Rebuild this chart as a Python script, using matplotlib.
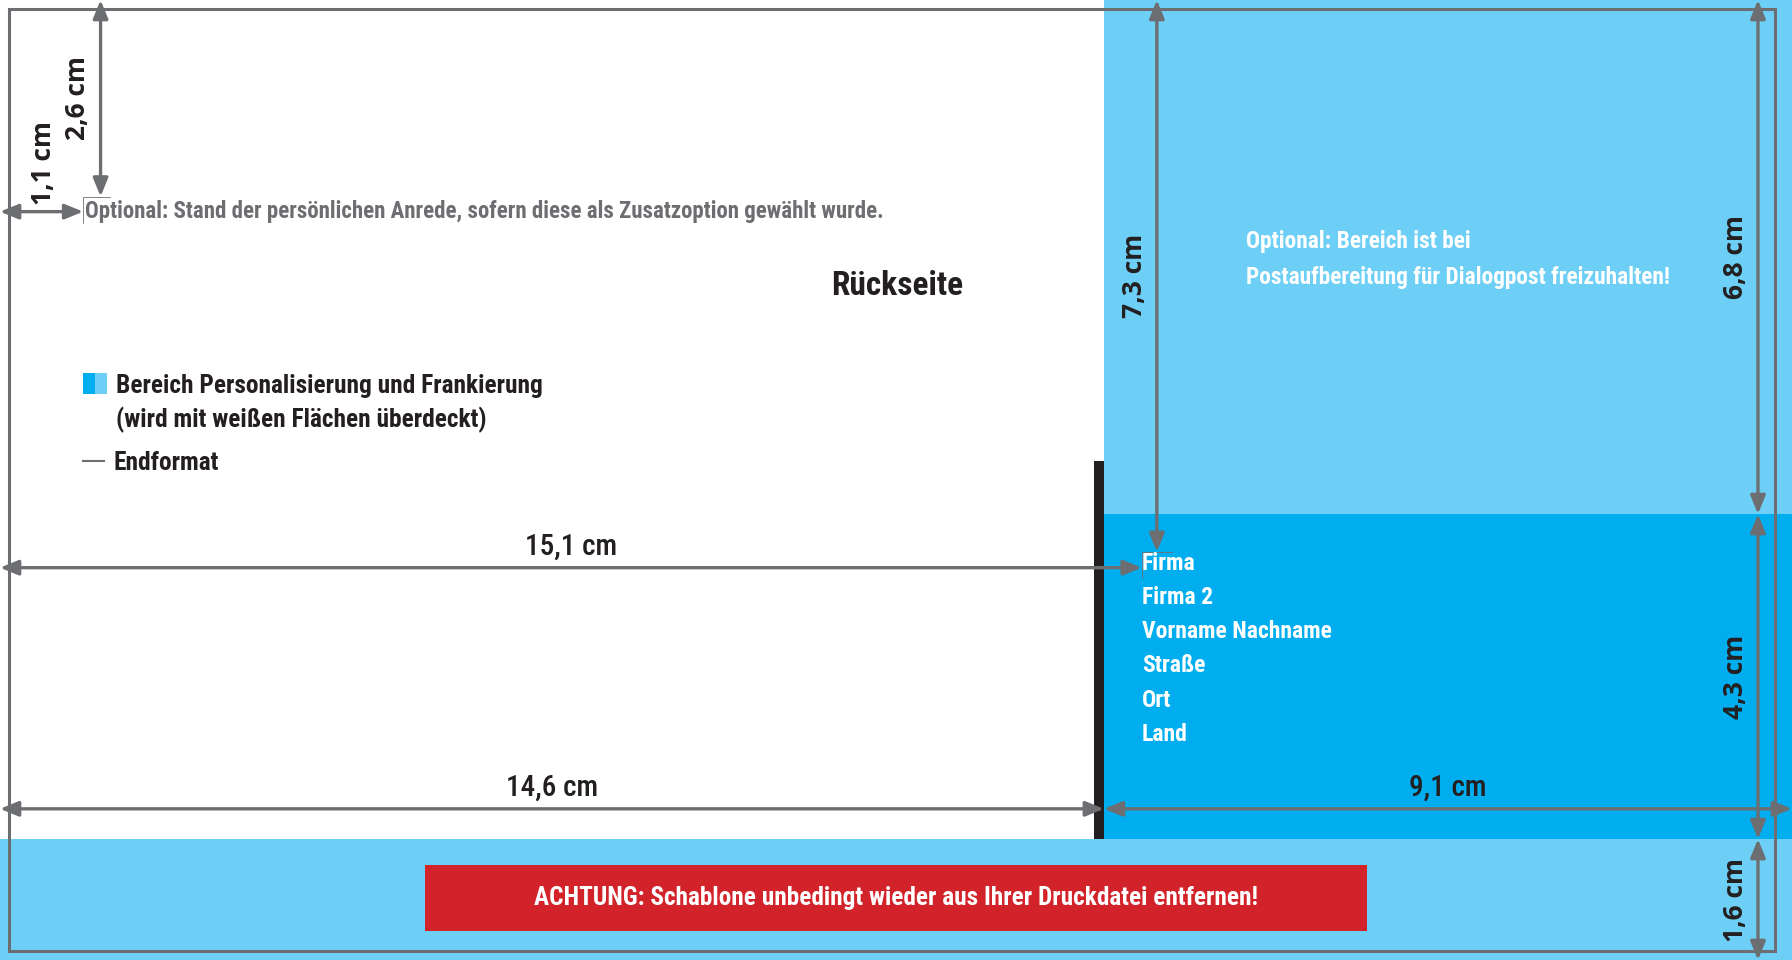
import matplotlib
matplotlib.use('Agg')
import matplotlib.pyplot as plt
from matplotlib import font_manager
from matplotlib.patches import Rectangle

# layout of the card in cm
front_width = 14.6
address_width = 9.1
top_height = 6.8
address_height = 4.3
band_height = 1.6
total_width = front_width + address_width
total_height = top_height + address_height + band_height

# dimension arrows (value in cm, start along the arrow, cross position)
h_dims = [1.1, 15.1, 14.6, 9.1]
h_starts = [0, 0, 0, 14.6]
h_cross = [2.8, 7.51, 10.7, 10.7]
v_dims = [2.6, 7.3, 6.8, 4.3, 1.6]
v_starts = [0, 0, 0, 6.8, 11.1]
v_cross = [1.33, 15.3, 23.25, 23.25, 23.25]

address_lines = ['Firma', 'Firma 2', 'Vorname Nachname', 'Straße', 'Ort', 'Land']
blue_note = ['Optional: Bereich ist bei', 'Postaufbereitung für Dialogpost freizuhalten!']
anrede_note = 'Optional: Stand der persönlichen Anrede, sofern diese als Zusatzoption gewählt wurde.'
legend_lines = ['Bereich Personalisierung und Frankierung', '(wird mit weißen Flächen überdeckt)']
warning = 'ACHTUNG: Schablone unbedingt wieder aus Ihrer Druckdatei entfernen!'

light_blue = '#6dcff6'
dark_blue = '#00aeef'
red = '#d2232a'
gray = '#6d6e71'
black = '#231f20'

installed = {f.name for f in font_manager.fontManager.ttflist}
condensed = [n for n in ['Roboto Condensed', 'Liberation Sans Narrow', 'DejaVu Sans'] if n in installed]
narrow = condensed[:1] + ['DejaVu Sans']
wide = ['Open Sans', 'DejaVu Sans']
cond = dict(family=narrow, fontstretch='condensed', fontweight='bold')

def cm_label(v):
    return '{:.1f} cm'.format(v).replace('.', ',')

def dim_arrow(x0, y0, x1, y1):
    ax.annotate('', xy=(x1, y1), xytext=(x0, y0),
                arrowprops=dict(arrowstyle='<|-|>,head_length=1.1,head_width=0.45',
                                color=gray, lw=2.4, shrinkA=0, shrinkB=0))

fig = plt.figure(figsize=(17.92, 9.6), dpi=100)
ax = fig.add_axes([0, 0, 1, 1])
ax.set_xlim(0, total_width)
ax.set_ylim(total_height, 0)
ax.axis('off')

# coloured areas
ax.add_patch(Rectangle((front_width, 0), address_width, top_height, color=light_blue, lw=0))
ax.add_patch(Rectangle((front_width, top_height), address_width, address_height, color=dark_blue, lw=0))
ax.add_patch(Rectangle((0, top_height + address_height), total_width, band_height, color=light_blue, lw=0))
ax.add_patch(Rectangle((front_width - 0.13, 6.1), 0.13, top_height + address_height - 6.1, color=black, lw=0))

# Endformat border
ax.add_patch(Rectangle((0.12, 0.12), 23.35, 12.46, fill=False, ec=gray, lw=2.2))

# warning box
ax.add_patch(Rectangle((5.62, 11.44), 12.46, 0.88, color=red, lw=0))
ax.text(11.85, 11.88, warning, color='white', fontsize=18.2, ha='center', va='center', **cond)

for v, s, c in zip(h_dims, h_starts, h_cross):
    dim_arrow(s, c, s + v, c)
    if v > 2:
        ax.text(s + v / 2, c - 0.28, cm_label(v), color=black, fontsize=21,
                ha='center', va='center', family=narrow, fontstretch='condensed',
                fontweight='medium')
    else:
        ax.text(s + 0.57, c - 0.65, cm_label(v), color=black, fontsize=19,
                fontweight='bold', family=wide, ha='center', va='center', rotation=90)

for v, s, c in zip(v_dims, v_starts, v_cross):
    dim_arrow(c, s, c, s + v)
    ax.text(c - 0.3, s + v / 2, cm_label(v), color=black, fontsize=19,
            fontweight='bold', family=wide, ha='center', va='center', rotation=90)

# text frame corners
ax.plot([1.1, 1.1, 1.45], [2.95, 2.6, 2.6], color=gray, lw=0.6)
ax.plot([15.1, 15.1, 15.5], [7.65, 7.3, 7.3], color=gray, lw=0.6)

ax.text(1.12, 2.8, anrede_note, color=gray, fontsize=16.5, ha='left', va='center', **cond)
ax.text(11.87, 3.78, 'Rückseite', color=black, fontsize=24, ha='center', va='center', **cond)

# legend
ax.add_patch(Rectangle((1.1, 4.94), 0.16, 0.27, color=dark_blue, lw=0))
ax.add_patch(Rectangle((1.26, 4.94), 0.16, 0.27, color=light_blue, lw=0))
for i, line in enumerate(legend_lines):
    ax.text(1.53, 5.1 + i * 0.46, line, color=black, fontsize=18.3, ha='left', va='center', **cond)
ax.plot([1.1, 1.38], [6.1, 6.1], color=gray, lw=1.5)
ax.text(1.5, 6.12, 'Endformat', color=black, fontsize=18.3, ha='left', va='center', **cond)

for i, line in enumerate(blue_note):
    ax.text(16.48, 3.2 + i * 0.47, line, color='white', fontsize=16.8, ha='left', va='center', **cond)

for i, line in enumerate(address_lines):
    ax.text(15.1, 7.45 + i * 0.453, line, color='white', fontsize=17, ha='left', va='center', **cond)

plt.savefig('out.png', dpi=100)
